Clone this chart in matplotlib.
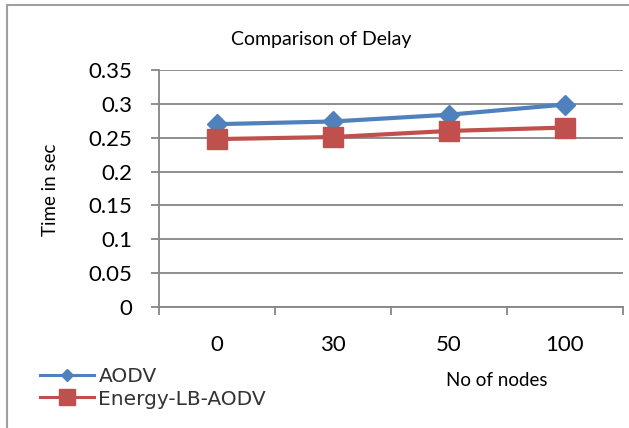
import matplotlib
matplotlib.use("Agg")
import matplotlib.pyplot as plt
from matplotlib.patches import Rectangle
from matplotlib.lines import Line2D

# data
nodes = ["0", "30", "50", "100"]
aodv = [0.270, 0.274, 0.284, 0.299]
energy_lb_aodv = [0.248, 0.251, 0.260, 0.265]
y_ticks = [0, 0.05, 0.1, 0.15, 0.2, 0.25, 0.3, 0.35]
y_tick_labels = ["0", "0.05", "0.1", "0.15", "0.2", "0.25", "0.3", "0.35"]

blue, red = '#4F81BD', '#C0504D'

W, H = 629, 428
plt.rcParams['font.family'] = ['Lato', 'DejaVu Sans']
fig = plt.figure(figsize=(W / 100, H / 100), dpi=100)

# outer chart border (clipped at right/bottom like the reference)
fig.patches.append(Rectangle((7 / W, -0.1), 1.2, 1 - 5 / H + 0.1,
                             transform=fig.transFigure, fill=False,
                             edgecolor='#a0a0a0', linewidth=1.5))

left, right, top, bottom = 159, 623, 70, 307
ax = fig.add_axes([left / W, 1 - bottom / H, (right - left) / W, (bottom - top) / H])

grey = '#868686'
x = list(range(len(nodes)))
ax.plot(x, aodv, color=blue, linewidth=3, marker='D', markersize=10.5, zorder=3)
ax.plot(x, energy_lb_aodv, color=red, linewidth=3, marker='s', markersize=14, zorder=3)

ax.set_ylim(0, 0.35)
ax.set_xlim(-0.5, len(nodes) - 0.5)
ax.set_yticks(y_ticks)
ax.set_yticklabels(y_tick_labels)
ax.yaxis.grid(True, color=grey, linewidth=1.3)
ax.set_axisbelow(True)

# category boundaries get the tick marks, labels sit in between
ax.set_xticks([i - 0.5 for i in range(len(nodes) + 1)])
ax.set_xticklabels([])
ax.set_xticks(x, minor=True)
ax.set_xticklabels(nodes, minor=True)
ax.tick_params(axis='x', which='major', direction='out', length=6, color=grey, width=1.3)
ax.tick_params(axis='x', which='minor', length=0, pad=20, labelsize=16)
ax.tick_params(axis='y', direction='out', length=6, color=grey, width=1.3,
               pad=13, labelsize=16)

for s in ['top', 'right']:
    ax.spines[s].set_visible(False)
for s in ['left', 'bottom']:
    ax.spines[s].set_color(grey)
    ax.spines[s].set_linewidth(1.3)

fig.text(321 / W, 1 - 40 / H, "Comparison of Delay", ha='center', va='center', fontsize=14)
fig.text(50 / W, 1 - 190 / H, "Time in sec", ha='center', va='center',
         rotation=90, fontsize=13.5)
fig.text(497 / W, 1 - 380 / H, "No of nodes", ha='center', va='center', fontsize=13.5)

# legend with smaller markers and thinner lines than the plotted series
handles = [Line2D([], [], color=blue, linewidth=2.2, marker='D', markersize=6.5),
           Line2D([], [], color=red, linewidth=2.2, marker='s', markersize=12)]
leg = fig.legend(handles, ['AODV', 'Energy-LB-AODV'], loc='center left',
                 bbox_to_anchor=(40 / W, 1 - 388 / H), frameon=False,
                 borderpad=0, borderaxespad=0, handlelength=2.7, handletextpad=0.2,
                 labelspacing=0.15, fontsize=14.5)
for t in leg.get_texts():
    t.set_family('DejaVu Sans')
    t.set_color('#333333')

fig.savefig("out.png", dpi=100)
